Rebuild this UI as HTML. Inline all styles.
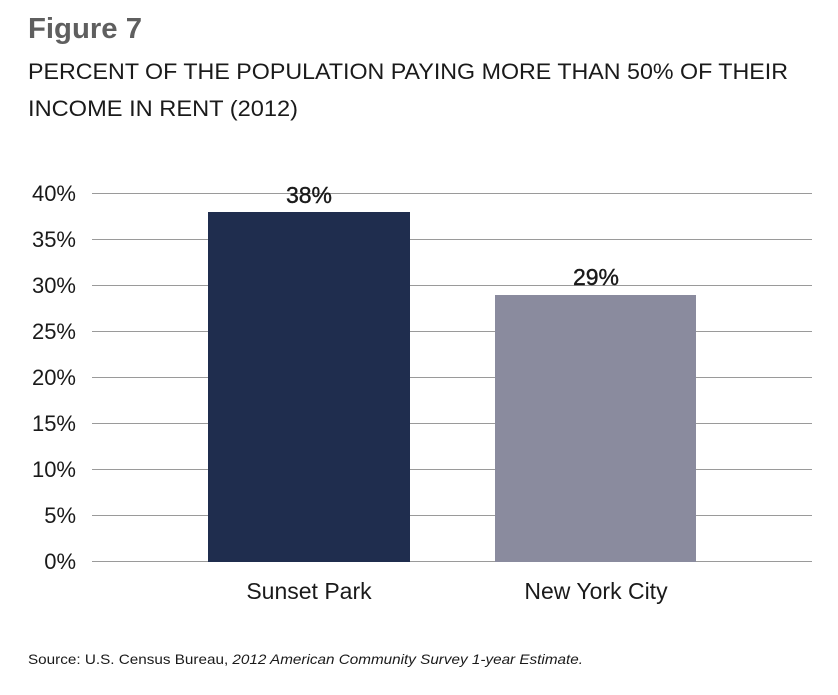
<!DOCTYPE html>
<html><head><style>
body{margin:0;background:#fff;}
svg{display:block;font-family:"Liberation Sans",sans-serif;}
</style></head><body>
<svg width="838" height="695" viewBox="0 0 838 695" xmlns="http://www.w3.org/2000/svg">
<rect width="838" height="695" fill="#fff"/>
<text x="28" y="38" font-size="29" font-weight="bold" fill="#5f5f5f" textLength="114" lengthAdjust="spacingAndGlyphs">Figure 7</text>
<text x="28" y="79" font-size="22" fill="#1a1a1a" textLength="760" lengthAdjust="spacingAndGlyphs">PERCENT OF THE POPULATION PAYING MORE THAN 50% OF THEIR</text>
<text x="28" y="116" font-size="22" fill="#1a1a1a" textLength="270" lengthAdjust="spacingAndGlyphs">INCOME IN RENT (2012)</text>
<g stroke="#9a9a9a" stroke-width="1">
<line x1="92" x2="812" y1="193.5" y2="193.5"/>
<line x1="92" x2="812" y1="239.5" y2="239.5"/>
<line x1="92" x2="812" y1="285.5" y2="285.5"/>
<line x1="92" x2="812" y1="331.5" y2="331.5"/>
<line x1="92" x2="812" y1="377.5" y2="377.5"/>
<line x1="92" x2="812" y1="423.5" y2="423.5"/>
<line x1="92" x2="812" y1="469.5" y2="469.5"/>
<line x1="92" x2="812" y1="515.5" y2="515.5"/>
<line x1="92" x2="812" y1="561.5" y2="561.5"/>
</g>
<g font-size="22" fill="#1a1a1a" text-anchor="end">
<text x="76" y="201">40%</text>
<text x="76" y="247">35%</text>
<text x="76" y="293">30%</text>
<text x="76" y="339">25%</text>
<text x="76" y="385">20%</text>
<text x="76" y="431">15%</text>
<text x="76" y="477">10%</text>
<text x="76" y="523">5%</text>
<text x="76" y="569">0%</text>
</g>
<rect x="208" y="212" width="202" height="350" fill="#1f2d4e"/>
<rect x="495" y="295" width="201" height="267" fill="#8a8b9e"/>
<text x="309" y="203" font-size="23" text-anchor="middle" fill="#1a1a1a" stroke="#1a1a1a" stroke-width="0.4">38%</text>
<text x="596" y="285" font-size="23" text-anchor="middle" fill="#1a1a1a" stroke="#1a1a1a" stroke-width="0.4">29%</text>
<text x="309" y="599" font-size="23" text-anchor="middle" fill="#1a1a1a">Sunset Park</text>
<text x="596" y="599" font-size="23" text-anchor="middle" fill="#1a1a1a">New York City</text>
<text x="28" y="664" font-size="14" fill="#1a1a1a" textLength="555" lengthAdjust="spacingAndGlyphs">Source: U.S. Census Bureau, <tspan font-style="italic">2012 American Community Survey 1-year Estimate.</tspan></text>
</svg>
</body></html>
